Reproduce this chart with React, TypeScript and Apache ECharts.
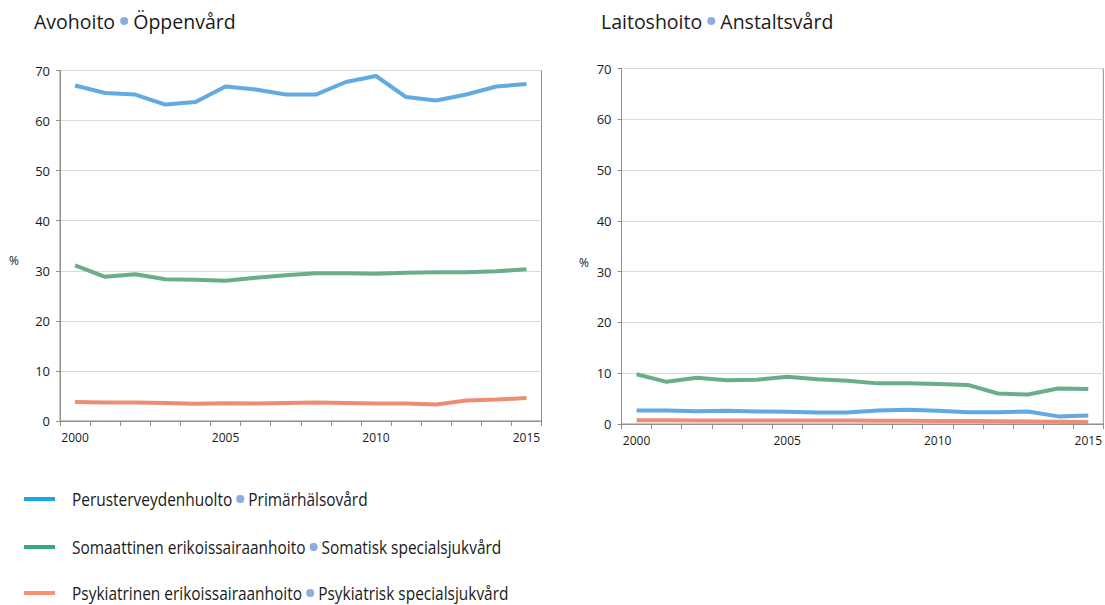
import React, { useEffect, useRef } from "react";
import * as echarts from "echarts";

const years = ["2000","2001","2002","2003","2004","2005","2006","2007","2008","2009","2010","2011","2012","2013","2014","2015"];

// Avohoito / Öppenvård (%)
const openPrimary = [67.0, 65.5, 65.2, 63.2, 63.7, 66.8, 66.2, 65.2, 65.2, 67.7, 68.9, 64.7, 64.0, 65.2, 66.8, 67.3];
const openSomatic = [31.1, 28.8, 29.3, 28.3, 28.2, 28.0, 28.6, 29.1, 29.5, 29.5, 29.4, 29.6, 29.7, 29.7, 29.9, 30.3];
const openPsych = [3.8, 3.7, 3.7, 3.6, 3.45, 3.55, 3.5, 3.6, 3.7, 3.6, 3.5, 3.5, 3.3, 4.1, 4.3, 4.6];

// Laitoshoito / Anstaltsvård (%)
const instPrimary = [2.65, 2.65, 2.5, 2.6, 2.45, 2.4, 2.25, 2.25, 2.65, 2.8, 2.6, 2.3, 2.3, 2.45, 1.5, 1.65];
const instSomatic = [9.8, 8.3, 9.1, 8.6, 8.7, 9.3, 8.8, 8.5, 8.0, 8.0, 7.9, 7.7, 6.0, 5.8, 7.0, 6.9];
const instPsych = [0.75, 0.75, 0.7, 0.7, 0.7, 0.7, 0.7, 0.7, 0.65, 0.65, 0.6, 0.6, 0.55, 0.5, 0.45, 0.4];

const panelTitles = [["Avohoito", "Öppenvård"], ["Laitoshoito", "Anstaltsvård"]];
const legendLabels = [
  ["Perusterveydenhuolto", "Primärhälsovård"],
  ["Somaattinen erikoissairaanhoito", "Somatisk specialsjukvård"],
  ["Psykiatrinen erikoissairaanhoito", "Psykiatrisk specialsjukvård"],
];
const yTicks = { min: 0, max: 70, interval: 10 };
const unitLabel = "%";

const lineColors = ["#62aadf", "#6aad89", "#ec8d74"];
const legendColors = ["#1ba8e1", "#38a880", "#f8946f"];
const dotColor = "#8daedc";
const axisColor = "#8f8f8f";
const gridColor = "#d9d9d9";
const FONT = "'Open Sans', sans-serif";

export default function App() {
  const ref = useRef<HTMLDivElement>(null);
  useEffect(() => {
    if (!ref.current) return;
    const chart = echarts.init(ref.current, undefined, { renderer: "svg" });
    const grids = [
      { left: 60, top: 70.5, width: 481.5, height: 350.5 },
      { left: 621.5, top: 68.5, width: 482, height: 355.5 },
    ];
    const xAxis = grids.map((_, i) => ({
      type: "category",
      gridIndex: i,
      data: years,
      boundaryGap: true,
      axisLine: { show: true, lineStyle: { color: axisColor, width: 1 } },
      axisTick: { show: true, interval: 0, length: 5, lineStyle: { color: axisColor } },
      axisLabel: { interval: 4, color: "#1a1a1a", fontSize: 12, fontFamily: FONT, margin: 10 },
      splitLine: { show: false },
    }));
    const yAxis = grids.map((_, i) => ({
      type: "value",
      gridIndex: i,
      min: yTicks.min,
      max: yTicks.max,
      interval: yTicks.interval,
      axisLine: { show: true, lineStyle: { color: axisColor, width: 1 } },
      axisTick: { show: true, length: 4, lineStyle: { color: axisColor } },
      axisLabel: { color: "#1a1a1a", fontSize: 13, fontFamily: FONT, margin: 10 },
      splitLine: { show: true, lineStyle: { color: gridColor, width: 1 } },
    }));
    const panels = [
      [openPrimary, openSomatic, openPsych],
      [instPrimary, instSomatic, instPsych],
    ];
    const series: any[] = [];
    panels.forEach((p, gi) => {
      p.forEach((d, si) => {
        series.push({
          type: "line",
          xAxisIndex: gi,
          yAxisIndex: gi,
          data: d,
          showSymbol: false,
          symbol: "none",
          lineStyle: { color: lineColors[si], width: 4 },
          itemStyle: { color: lineColors[si] },
          z: 3 - si,
        });
      });
    });

    const makeRich = (size: number, dotW: number, lh?: number) => ({
      a: { fontSize: size, fontFamily: FONT, fill: "#1a1a1a", color: "#1a1a1a", ...(lh ? { lineHeight: lh } : {}) },
      d: { width: dotW, height: 8, backgroundColor: dotColor, borderRadius: 4 },
    });
    const richText = (a: string, b: string) => `{a|${a} }{d|}{a| ${b}}`;

    const graphic: any[] = [];
    const titleX = [34, 601];
    panelTitles.forEach((t, i) => {
      graphic.push({
        type: "text",
        x: titleX[i],
        y: 21,
        style: {
          text: richText(t[0], t[1]),
          rich: makeRich(19.5, 8),
          fill: "#1a1a1a",
          verticalAlign: "middle",
          font: `19.5px ${FONT}`,
        },
      });
    });
    [[14, 260], [584, 262]].forEach(([x, y]) => {
      graphic.push({
        type: "text",
        x,
        y,
        style: { text: unitLabel, fill: "#1a1a1a", font: `12px ${FONT}`, align: "center", verticalAlign: "middle" },
      });
    });
    const legendY = [499, 547, 593];
    const legendScale = 0.835;
    legendLabels.forEach((l, i) => {
      graphic.push({
        type: "line",
        shape: { x1: 24, y1: legendY[i], x2: 55, y2: legendY[i] },
        style: { stroke: legendColors[i], lineWidth: 4 },
      });
      graphic.push({
        type: "text",
        x: 72,
        y: legendY[i],
        scaleX: legendScale,
        style: {
          text: richText(l[0], l[1]),
          rich: makeRich(18.5, 8 / legendScale, 18),
          fill: "#1a1a1a",
          verticalAlign: "middle",
          font: `18.5px ${FONT}`,
          lineHeight: 18,
        },
      });
    });

    chart.setOption({
      animation: false,
      backgroundColor: "#ffffff",
      textStyle: { fontFamily: FONT },
      grid: grids.map((g) => ({ ...g, show: true, borderColor: axisColor, borderWidth: 1, backgroundColor: "transparent", containLabel: false })),
      xAxis,
      yAxis,
      series,
      graphic,
    });
    return () => chart.dispose();
  }, []);
  return <div ref={ref} style={{ position: "absolute", left: 0, top: 0, width: 1105, height: 605 }} />;
}
